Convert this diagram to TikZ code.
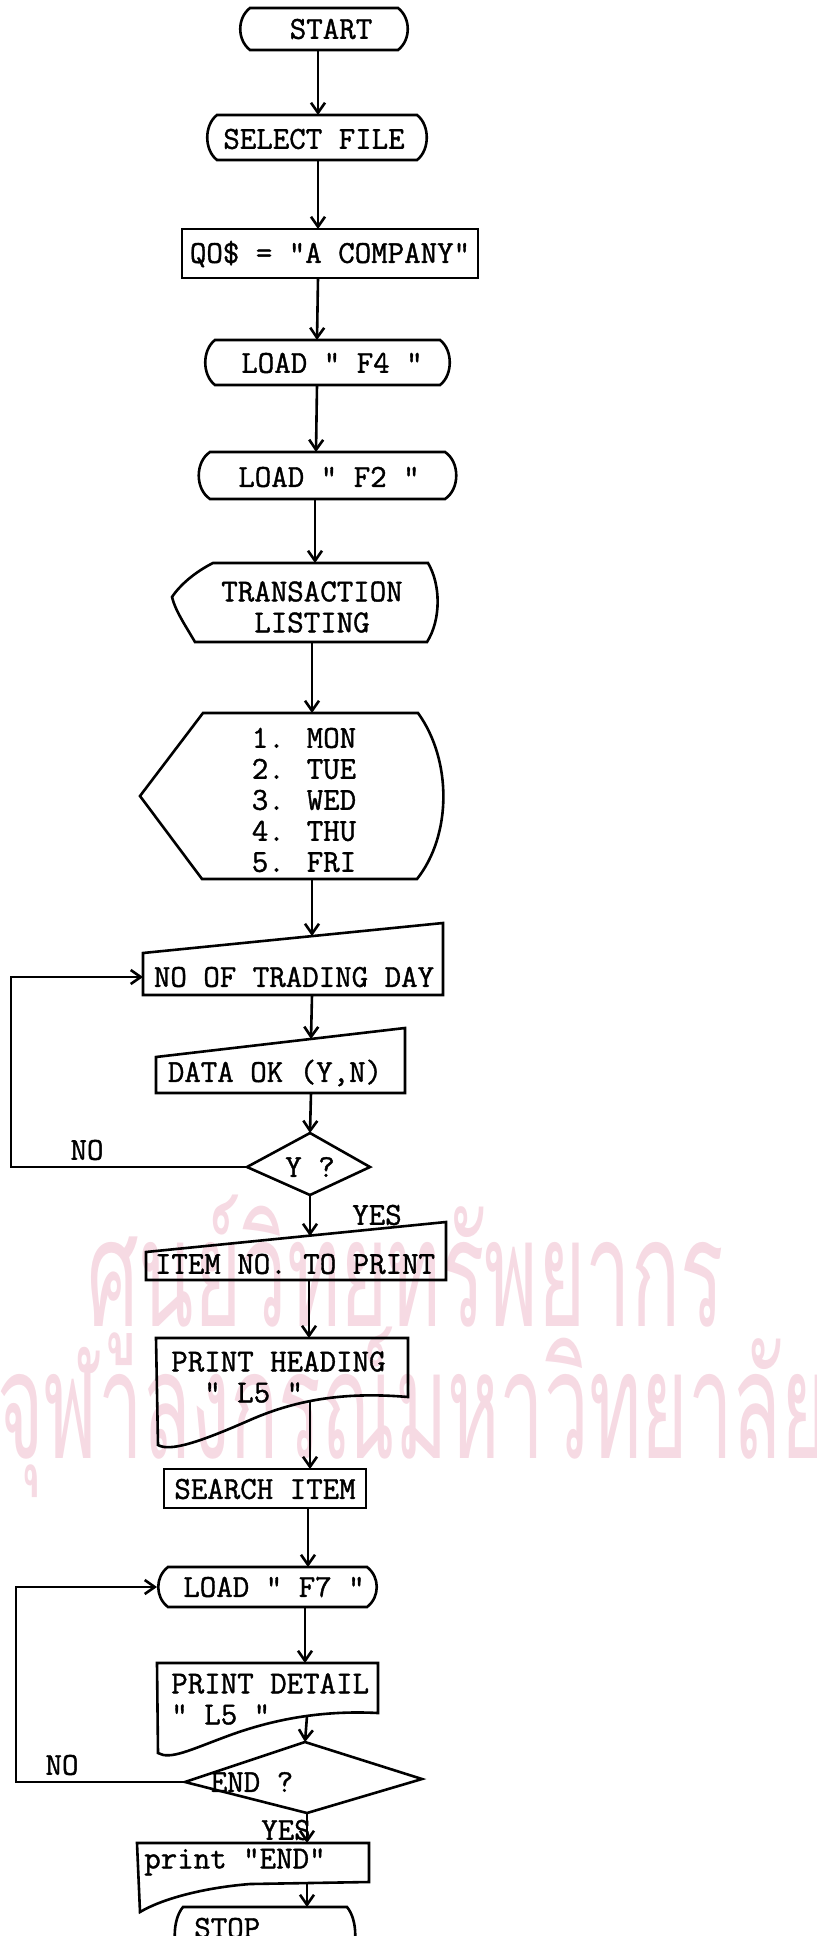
\documentclass[tikz,border=0pt]{standalone}
\usepackage{fontspec}
\newfontfamily\typew{Latin Modern Mono}[FakeBold=1.2]
\newfontfamily\thaifont[Script=Thai]{Loma}
\usetikzlibrary{arrows.meta}
\definecolor{filigrane}{RGB}{246,218,227}

\begin{document}
\begin{tikzpicture}[x=0.5pt,y=-0.5pt,line width=1.3pt,>={Straight Barb[length=5pt,width=7pt]},
	txt/.style={font=\typew\fontsize{16}{15.5}\selectfont,inner sep=0pt,align=center},
	wm/.style={font=\thaifont\fontsize{75}{75}\selectfont,text=filigrane,inner sep=0pt}]
	\useasboundingbox (0,0) rectangle (816,1936);
	% filigrane
	\node[wm,anchor=base west] (wmA) at (86,1326) {\scalebox{0.54}[1]{ศูนย์วิทยทรัพยากร}};
	\node[wm,anchor=base west] (wmB) at (-4,1458) {\scalebox{0.53}[1]{จุฬาลงกรณ์มหาวิทยาลัย}};
	% START
	\draw (250,8) -- (398,8) .. controls (411,18) and (411,40) .. (398,50) -- (250,50) .. controls (237,40) and (237,18) .. cycle;
	\node[txt] (start) at (331,29) {START};
	\coordinate (startout) at (318,50);
	% SELECT FILE
	\draw (217,115) -- (417,115) .. controls (430,125) and (430,150) .. (417,160) -- (217,160) .. controls (204,150) and (204,125) .. cycle;
	\node[txt] (select) at (314,139) {SELECT FILE};
	\coordinate (selin) at (318,115);
	\coordinate (selout) at (318,160);
	% QO$
	\draw (182,229) rectangle (478,278);
	\node[txt] (qos) at (330,254) {QO\$ = "A COMPANY"};
	\coordinate (qosin) at (318,229);
	\coordinate (qosout) at (318,278);
	% LOAD F4
	\draw (215,340) -- (440,340) .. controls (453,350) and (453,375) .. (440,385) -- (215,385) .. controls (202,375) and (202,350) .. cycle;
	\node[txt] (loadA) at (332,363) {LOAD " F4 "};
	\coordinate (loadAin) at (317,340);
	\coordinate (loadAout) at (317,385);
	% LOAD F2
	\draw (210,452) -- (445,452) .. controls (460,462) and (460,489) .. (445,499) -- (210,499) .. controls (195,489) and (195,462) .. cycle;
	\node[txt] (loadB) at (329,477) {LOAD " F2 "};
	\coordinate (loadBin) at (316,452);
	\coordinate (loadBout) at (315,499);
	% TRANSACTION LISTING (affichage)
	\draw (213,563) -- (428,563) .. controls (441,585) and (441,620) .. (427,642) -- (195,642) .. controls (185,625) and (175,610) .. (172,597) .. controls (180,585) and (195,572) .. cycle;
	\node[txt] (trans) at (312,607) {TRANSACTION\\LISTING};
	\coordinate (transin) at (315,563);
	\coordinate (transout) at (312,642);
	% jours
	\draw (203,713) -- (418,713) .. controls (452,760) and (452,835) .. (417,879) -- (202,879) -- (140,796) -- cycle;
	\node[txt,align=left] (days) at (304,800) {1. MON\\2. TUE\\3. WED\\4. THU\\5. FRI};
	\coordinate (daysin) at (312,713);
	\coordinate (daysout) at (312,879);
	% NO OF TRADING DAY
	\draw (143,953) -- (443,923) -- (443,995) -- (143,995) -- cycle;
	\node[txt] (trading) at (294,977) {NO OF TRADING DAY};
	\coordinate (tradin) at (312,936);
	\coordinate (tradleft) at (143,977);
	\coordinate (tradout) at (312,995);
	% DATA OK
	\draw (156,1057) -- (405,1028) -- (405,1093) -- (156,1093) -- cycle;
	\node[txt] (dataok) at (275,1073) {DATA OK (Y,N)};
	\coordinate (datain) at (311,1039);
	\coordinate (dataout) at (311,1093);
	% Y ?
	\draw (310,1133) -- (370,1167) -- (310,1195) -- (247,1167) -- cycle;
	\node[txt] (ytest) at (310,1167) {Y ?};
	\coordinate (ytop) at (310,1133);
	\coordinate (yleft) at (247,1167);
	\coordinate (ybot) at (310,1195);
	\node[txt] (noA) at (87,1150) {NO};
	\node[txt] (yesA) at (377,1215) {YES};
	% ITEM NO. TO PRINT
	\draw (146,1252) -- (446,1222) -- (446,1280) -- (146,1280) -- cycle;
	\node[txt] (item) at (295,1264) {ITEM NO. TO PRINT};
	\coordinate (itemin) at (310,1236);
	\coordinate (itemout) at (309,1280);
	% PRINT HEADING (document)
	\draw (156,1338) -- (408,1338) -- (408,1397) .. controls (350,1392) and (300,1398) .. (250,1420) .. controls (200,1442) and (170,1452) .. (158,1445) -- cycle;
	\node[txt,align=left,anchor=west] (heading) at (170,1377) {PRINT HEADING\\\phantom{PR}" L5 "};
	\coordinate (headin) at (309,1338);
	\coordinate (headout) at (310,1402);
	% SEARCH ITEM
	\draw (164,1469) rectangle (366,1508);
	\node[txt] (search) at (265,1489) {SEARCH ITEM};
	\coordinate (searchin) at (310,1469);
	\coordinate (searchout) at (308,1508);
	% LOAD F7
	\draw (168,1567) -- (367,1567) .. controls (380,1577) and (380,1597) .. (367,1607) -- (168,1607) .. controls (155,1597) and (155,1577) .. cycle;
	\node[txt] (loadC) at (274,1587) {LOAD " F7 "};
	\coordinate (loadCin) at (308,1567);
	\coordinate (loadCleft) at (157,1587);
	\coordinate (loadCout) at (305,1607);
	% PRINT DETAIL (document)
	\draw (157,1663) -- (378,1663) -- (378,1713) .. controls (320,1710) and (270,1720) .. (225,1737) .. controls (190,1750) and (170,1760) .. (158,1753) -- cycle;
	\node[txt,align=left,anchor=west] (detail) at (170,1699) {PRINT DETAIL\\" L5 "};
	\coordinate (detin) at (305,1663);
	\coordinate (detout) at (307,1716);
	% END ?
	\draw (305,1742) -- (422,1779) -- (307,1813) -- (185,1782) -- cycle;
	\node[txt] (endtest) at (252,1782) {END ?};
	\coordinate (endtop) at (305,1742);
	\coordinate (endleft) at (185,1782);
	\coordinate (endbot) at (307,1813);
	\node[txt] (noB) at (62,1765) {NO};
	\node[txt] (yesB) at (286,1830) {YES};
	% print "END" (document)
	\draw (137,1843) -- (369,1843) -- (369,1882) -- (250,1884) .. controls (200,1888) and (160,1900) .. (140,1912) -- cycle;
	\node[txt,anchor=west] (printend) at (143,1862) {print "END"};
	\coordinate (pendin) at (307,1843);
	\coordinate (pendout) at (307,1883);
	% STOP
	\draw (183,1907) -- (347,1907) .. controls (358,1920) and (358,1950) .. (347,1962) -- (183,1962) .. controls (172,1950) and (172,1920) .. cycle;
	\node[txt,anchor=west] (stop) at (193,1928) {STOP};
	\coordinate (stopin) at (307,1907);
	% fleches
	\draw[->] (startout) -- (selin);
	\draw[->] (selout) -- (qosin);
	\draw[->] (qosout) -- (loadAin);
	\draw[->] (loadAout) -- (loadBin);
	\draw[->] (loadBout) -- (transin);
	\draw[->] (transout) -- (daysin);
	\draw[->] (daysout) -- (tradin);
	\draw[->] (tradout) -- (datain);
	\draw[->] (dataout) -- (ytop);
	\draw[->] (yleft) -- (11,1167) -- (11,977) -- (tradleft); % boucle NO
	\draw[->] (ybot) -- (itemin);
	\draw[->] (itemout) -- (headin);
	\draw[->] (headout) -- (searchin);
	\draw[->] (searchout) -- (loadCin);
	\draw[->] (loadCout) -- (detin);
	\draw[->] (detout) -- (endtop);
	\draw[->] (endleft) -- (16,1782) -- (16,1587) -- (loadCleft); % boucle NO
	\draw[->] (endbot) -- (pendin);
	\draw[->] (pendout) -- (stopin);
\end{tikzpicture}
\end{document}
